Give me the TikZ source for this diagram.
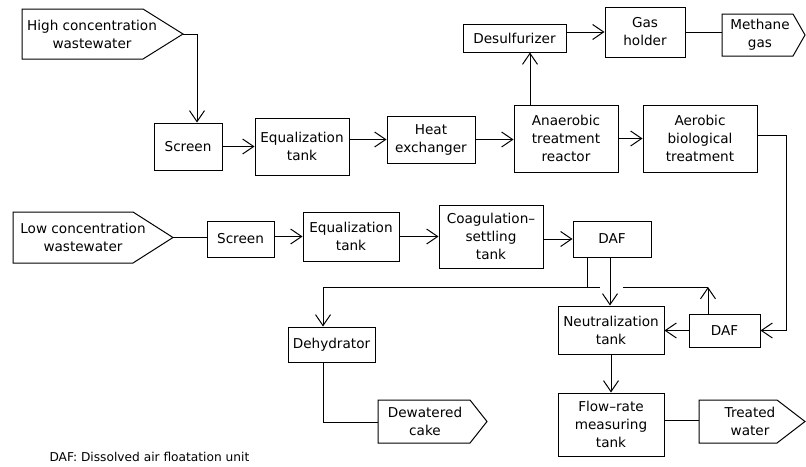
\documentclass[tikz,border=0pt]{standalone}
\usepackage{fontspec}
\setmainfont{DejaVu Sans}
\usetikzlibrary{arrows.meta}
\begin{document}
\begin{tikzpicture}[x=1pt,y=-1pt,line width=1pt,
  txt/.style={align=center,inner sep=0pt,font=\fontsize{13.6}{18}\selectfont},
  box/.style 2 args={draw,txt,minimum width=#1pt,minimum height=#2pt},
  arr/.style={-{Straight Barb[length=11pt,width=15pt]}}]
\useasboundingbox (0,0) rectangle (806,466);
% --- sources and sinks (pentagons)
\draw (22,9) -- (143,9) -- (183,34) -- (143,59) -- (22,59) -- cycle;
\node[txt] (hcw) at (92,34) {High concentration\\wastewater};
\coordinate (hcwtip) at (183,34);
\draw (13,212) -- (133,212) -- (173,237.5) -- (133,263) -- (13,263) -- cycle;
\node[txt] (lcw) at (83,237.5) {Low concentration\\wastewater};
\coordinate (lcwtip) at (173,237.5);
\draw (722,14) -- (793,14) -- (805,35) -- (793,56) -- (722,56) -- cycle;
\node[txt] (meth) at (760,35) {Methane\\gas};
\coordinate (methin) at (722,32);
\draw (378,400) -- (470,400) -- (487,421.5) -- (470,443) -- (378,443) -- cycle;
\node[txt] (cake) at (425,421.5) {Dewatered\\cake};
\coordinate (cakein) at (378,422);
\draw (699,400) -- (777,400) -- (805,421.5) -- (777,443) -- (699,443) -- cycle;
\node[txt] (tw) at (750,421.5) {Treated\\water};
\coordinate (twin) at (699,420);
% --- boxes
\node[box={68}{47}] (scr1) at (188,146.5) {Screen};
\node[box={94}{57}] (eq1) at (302,146.5) {Equalization\\tank};
\node[box={88}{47}] (hx) at (431,139.5) {Heat\\exchanger};
\node[box={104}{67}] (an) at (566,138.5) {Anaerobic\\treatment\\reactor};
\node[box={114}{67}] (ae) at (700,138.5) {Aerobic\\biological\\treatment};
\node[box={103}{28}] (ds) at (514.5,38) {Desulfurizer};
\node[box={80}{50}] (gh) at (645,32) {Gas\\holder};
\node[box={67}{36}] (scr2) at (240.5,239) {Screen};
\node[box={96}{49}] (eq2) at (351,236.5) {Equalization\\tank};
\node[box={104}{63}] (cs) at (491,236.5) {Coagulation–\\settling\\tank};
\node[box={78}{36}] (daf1) at (612,239) {DAF};
\node[box={106}{48}] (neu) at (611,330) {Neutralization\\tank};
\node[box={71}{33}] (daf2) at (724.5,330.5) {DAF};
\node[box={106}{63}] (fr) at (611,424.5) {Flow–rate\\measuring\\tank};
\node[box={87}{35}] (dh) at (331.5,344.5) {Dehydrator};
\node[anchor=west,inner sep=0pt,font=\fontsize{12.2}{15}\selectfont] (note) at (49,457) {DAF: Dissolved air floatation unit};
% --- connectors
\draw[arr] (hcwtip) -| ([xshift=9pt]scr1.north);
\draw[arr] (scr1.east) -- (eq1.west);
\draw[arr] (eq1.east |- hx.west) -- (hx.west);
\draw[arr] (hx.east) -- (hx.east -| an.west);
\draw[arr] (an.east) -- (ae.west);
\draw[arr] ([xshift=-36pt]an.north) -- ([xshift=-36pt]an.north |- ds.south);
\draw[arr] (gh.west -| ds.east) -- (gh.west);
\draw (gh.east |- methin) -- (methin);
\coordinate (rt) at (786,135);
\draw[arr] (ae.east |- rt) -- (rt) |- (daf2.east);
\draw (lcwtip) -- (lcwtip -| scr2.west);
\draw[arr] (scr2.east |- eq2.west) -- (eq2.west);
\draw[arr] (eq2.east) -- (cs.west);
\draw[arr] (cs.east |- daf1.west) -- (daf1.west);
\draw[arr] ([xshift=-2pt]daf1.south) -- ([xshift=-2pt]daf1.south |- neu.north);
\coordinate (gapL) at (600,287);
\coordinate (gapR) at (623,287);
\coordinate (k) at (708,287);
\draw ([xshift=-25pt]daf1.south) -- ([xshift=-25pt]daf1.south |- gapL);
\draw[arr] (gapL) -| ([xshift=-8.5pt]dh.north);
\draw[arr] (daf2.north -| k) -- (k);
\draw (k) -- (gapR);
\draw[arr] (daf2.west) -- (daf2.west -| neu.east);
\draw[arr] (neu.south) -- (fr.north);
\draw (fr.east |- twin) -- (twin);
\draw ([xshift=-8.5pt]dh.south) |- (cakein);
\end{tikzpicture}
\end{document}
